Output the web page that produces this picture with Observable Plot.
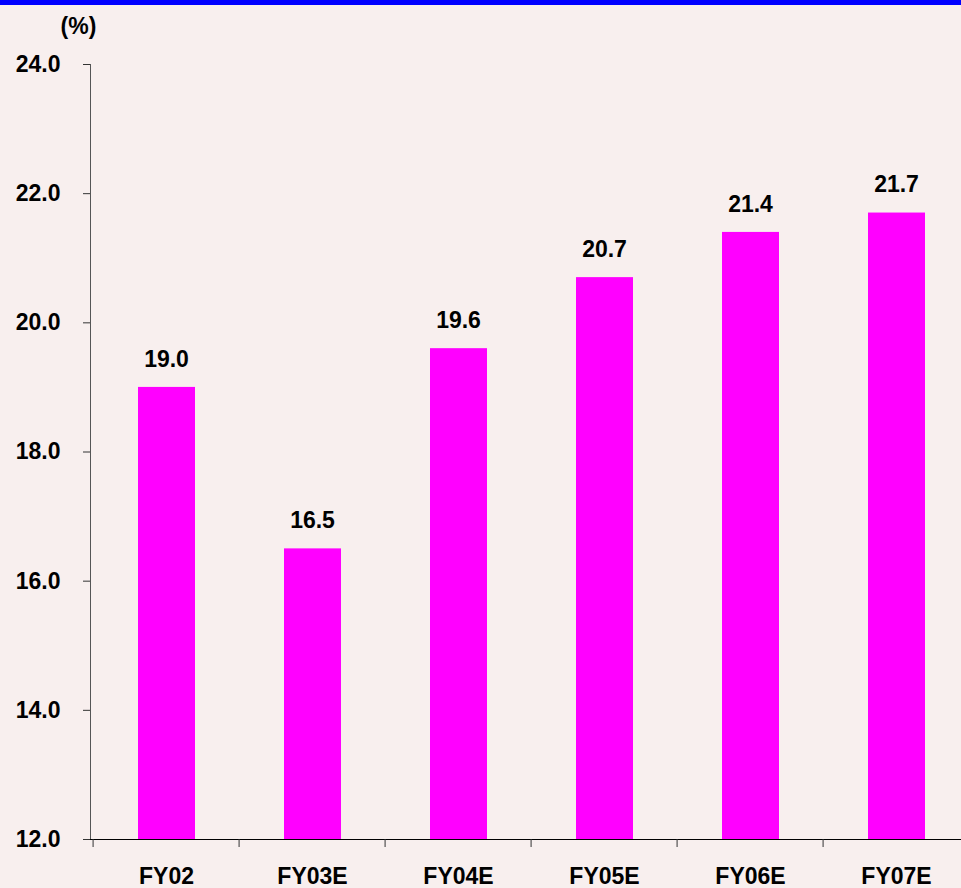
<!DOCTYPE html>
<html>
<head>
<meta charset="utf-8">
<script src="https://cdn.jsdelivr.net/npm/d3@7"></script>
<script src="https://cdn.jsdelivr.net/npm/@observablehq/plot@0.6"></script>
<style>
  html, body { margin: 0; padding: 0; background: #f8efee; width: 961px; height: 888px; overflow: hidden; }
  #topbar { height: 5px; background: #0000ff; }
  #chart svg { display: block; }
</style>
</head>
<body>
<div id="topbar"></div>
<div id="chart"></div>
<script>
const categories = ["FY02", "FY03E", "FY04E", "FY05E", "FY06E", "FY07E"];
const values = [19.0, 16.5, 19.6, 20.7, 21.4, 21.7];
const yTicks = [12, 14, 16, 18, 20, 22, 24];
const unitLabel = "(%)";

const data = categories.map((c, i) => ({category: c, value: values[i]}));

const xRange = [90, 971];
const step = (xRange[1] - xRange[0]) / categories.length;

const chart = Plot.plot({
  width: 961,
  height: 883,
  marginLeft: 90,
  marginRight: 0,
  marginTop: 59,
  marginBottom: 49,
  style: {
    fontFamily: "'Liberation Sans', Arial, sans-serif",
    fontWeight: "bold",
    fontSize: "23px",
    color: "#000",
    background: "transparent",
    overflow: "visible"
  },
  x: {domain: categories, range: xRange, padding: 0},
  y: {domain: [12, 24]},
  marks: [
    Plot.barY(data, {x: "category", y1: 12, y2: "value", fill: "#ff00ff", insetLeft: 45, insetRight: 44}),
    Plot.text(data, {x: "category", y: "value", text: d => d.value.toFixed(1), dy: -28, fontSize: 23}),
    Plot.frame({anchor: "left", stroke: "#555"}),
    Plot.ruleY([12], {stroke: "#000", insetLeft: -7}),
    Plot.axisY({ticks: yTicks, tickSize: 7, tickPadding: 23, tickFormat: d => d.toFixed(1), label: null, stroke: "#333", fontSize: 23}),
    Plot.axisX({tickSize: 8, tickPadding: 0, tickFormat: () => "", dx: -step / 2, label: null, stroke: "#333"}),
    Plot.axisX({tickSize: 0, tickPadding: 28, label: null, fontSize: 23}),
    Plot.text([unitLabel], {frameAnchor: "top-left", text: d => d, textAnchor: "middle", dx: -12, dy: -47, fontSize: 23})
  ]
});
document.getElementById("chart").appendChild(chart);
</script>
</body>
</html>
